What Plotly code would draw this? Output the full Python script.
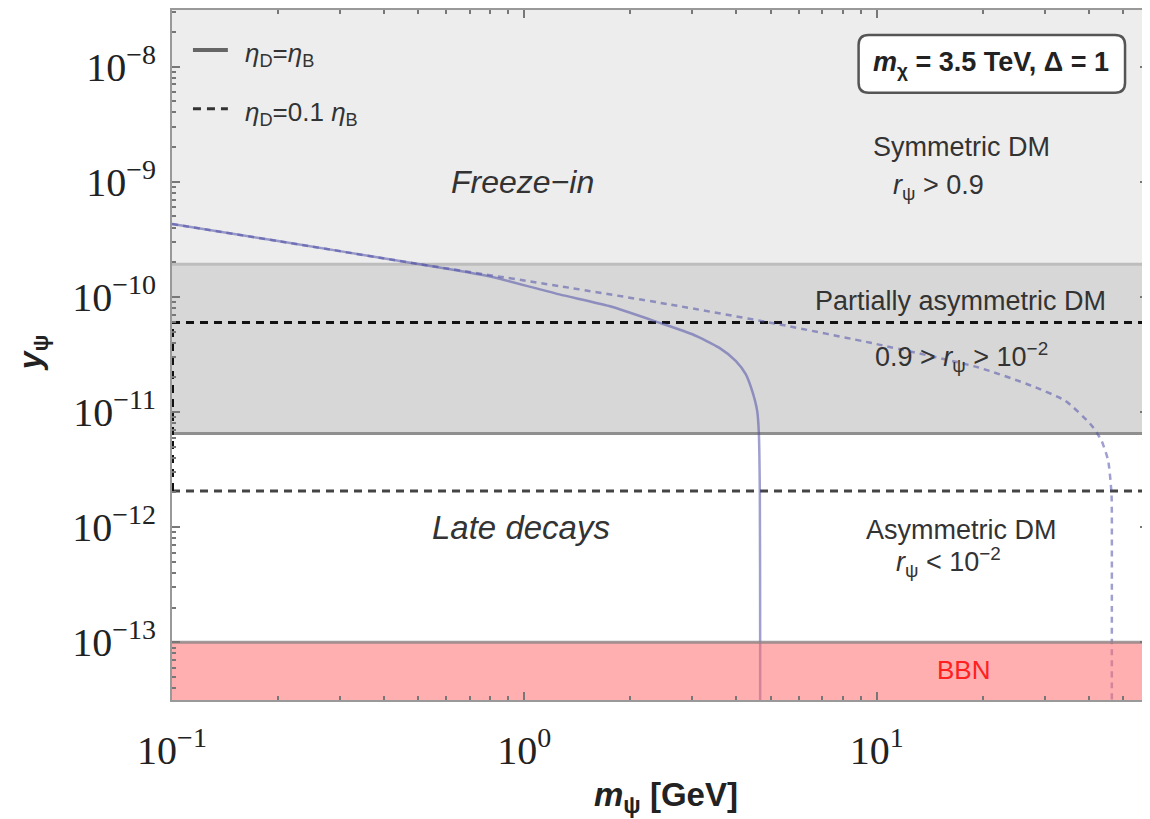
import numpy as np
import plotly.graph_objects as go

# ---------------- data ----------------
X_RANGE = [0.1, 58.9]          # m_psi [GeV]
Y_RANGE = [3.15e-14, 3.1e-8]   # y_psi

SYM_LOW = 1.92e-10     # boundary r_psi = 0.9   (eta_D = eta_B)
ASYM_HIGH = 6.5e-12    # boundary r_psi = 1e-2  (eta_D = eta_B)
DASH_SYM = 6.0e-11     # boundary r_psi = 0.9   (eta_D = 0.1 eta_B)
DASH_ASYM = 2.06e-12   # boundary r_psi = 1e-2  (eta_D = 0.1 eta_B)
BBN_Y = 1e-13

solid_m = [0.1, 0.2, 0.48, 0.8, 1.257, 1.741, 2.413, 3.0, 3.57, 3.98, 4.25, 4.43,
           4.58, 4.63, 4.66, 4.67, 4.67]
solid_y = [4.3e-10, 3.05e-10, 1.97e-10, 1.5e-10, 1.05e-10, 8.32e-11, 5.97e-11,
           4.73e-11, 3.62e-11, 2.78e-11, 2.13e-11, 1.53e-11, 1.02e-11, 6.6e-12,
           2e-12, 1e-13, 3.15e-14]

dash_m = [0.1, 0.2, 0.48, 1.257, 2.58, 5.27, 9.94, 19.5, 27.5, 34.3, 40.8, 43.5,
          45.4, 46.4, 46.5, 46.5, 46.5]
dash_y = [4.3e-10, 3.05e-10, 1.97e-10, 1.24e-10, 8.6e-11, 5.78e-11, 3.9e-11,
          2.43e-11, 1.69e-11, 1.25e-11, 7.6e-12, 5.6e-12, 3.77e-12, 1.95e-12,
          1.31e-12, 1e-13, 3.15e-14]

x_tickvals = [0.1, 1, 10]
x_ticktext = ["10<sup>−1</sup>", "10<sup>0</sup>", "10<sup>1</sup>"]
y_tickvals = [1e-13, 1e-12, 1e-11, 1e-10, 1e-9, 1e-8]
y_ticktext = ["10<sup>−13</sup>", "10<sup>−12</sup>", "10<sup>−11</sup>",
              "10<sup>−10</sup>", "10<sup>−9</sup>", "10<sup>−8</sup>"]
x_minor = [k * 10.0 ** n for n in (-1, 0, 1) for k in range(2, 10)]
y_minor = [k * 10.0 ** n for n in range(-14, -7) for k in range(2, 10)]

# ---------------- figure ----------------
fig = go.Figure()
X0, X1 = X_RANGE
Y0, Y1 = Y_RANGE

def band(ylo, yhi, color):
    fig.add_trace(go.Scatter(x=[X0, X1, X1, X0, X0], y=[ylo, ylo, yhi, yhi, ylo],
                             mode="lines", fill="toself", fillcolor=color,
                             line=dict(width=0), hoverinfo="skip", showlegend=False))

def hline(yv, color, width, dash="solid"):
    fig.add_trace(go.Scatter(x=[X0, X1], y=[yv, yv], mode="lines",
                             line=dict(color=color, width=width, dash=dash),
                             hoverinfo="skip", showlegend=False))

band(SYM_LOW, Y1, "#ededed")
band(ASYM_HIGH, SYM_LOW, "#d7d7d7")
hline(SYM_LOW, "#bdbdbd", 3)
hline(ASYM_HIGH, "#8f8f8f", 3)
hline(DASH_SYM, "#111111", 3, "8px,6px")
hline(DASH_ASYM, "#444444", 3, "8px,6px")
fig.add_trace(go.Scatter(x=[X0, X0], y=[DASH_ASYM, DASH_SYM], mode="lines",
                         line=dict(color="#111111", width=4, dash="8px,6px"),
                         hoverinfo="skip", showlegend=False))

CURVE = "rgba(80,80,170,0.55)"
fig.add_trace(go.Scatter(x=solid_m, y=solid_y, mode="lines",
                         line=dict(color=CURVE, width=2.5, shape="spline", smoothing=0.6),
                         hoverinfo="skip", showlegend=False))
fig.add_trace(go.Scatter(x=dash_m, y=dash_y, mode="lines",
                         line=dict(color=CURVE, width=2.5, dash="6px,5px",
                                   shape="spline", smoothing=0.6),
                         hoverinfo="skip", showlegend=False))

band(Y0, BBN_Y, "rgba(255,110,110,0.55)")
hline(BBN_Y, "rgba(140,130,130,0.8)", 3)

axis_common = dict(type="log", showline=True, linecolor="#999999", linewidth=2,
                   mirror="allticks", ticks="inside", ticklen=8, tickwidth=1.5,
                   tickcolor="#777777", showgrid=False, zeroline=False,
                   tickfont=dict(family="Liberation Serif", size=40, color="#222222"))

fig.update_xaxes(range=[np.log10(X0), np.log10(X1)], tickvals=x_tickvals,
                 ticktext=x_ticktext, ticklabelstandoff=14,
                 minor=dict(tickvals=x_minor, ticks="inside", ticklen=4,
                            tickcolor="#777777", showgrid=False),
                 **axis_common)
fig.update_yaxes(range=[np.log10(Y0), np.log10(Y1)], tickvals=y_tickvals,
                 ticktext=y_ticktext, ticklabelstandoff=6,
                 minor=dict(tickvals=y_minor, ticks="inside", ticklen=4,
                            tickcolor="#777777", showgrid=False),
                 **axis_common)

# page coordinates of the plot area (page has an 8px body margin)
L, T, W, H = 172, 8, 978, 692

def px(xp):
    return (xp - L) / W

def py(yp):
    return (T + H - yp) / H

SANS = "Liberation Sans"
ann = []

def text(x, y, s, size, color="#333333", **kw):
    ann.append(dict(x=px(x), y=py(y), xref="paper", yref="paper", text=s,
                    showarrow=False, font=dict(family=SANS, size=size, color=color),
                    xanchor="center", yanchor="middle", **kw))

text(523, 180, "<i>Freeze−in</i>", 32)
text(522, 527, "<i>Late decays</i>", 33)
text(963, 145, "Symmetric DM", 27)
text(940, 186, "<i>r</i><sub>ψ</sub> &gt; 0.9", 27)
text(962, 300, "Partially asymmetric DM", 27)
text(963, 356, "0.9 &gt; <i>r</i><sub>ψ</sub> &gt; 10<sup>−2</sup>", 27)
text(963, 530, "Asymmetric DM", 27)
text(950, 562, "<i>r</i><sub>ψ</sub> &lt; 10<sup>−2</sup>", 27)
text(965, 670, "BBN", 26, color="#ff2020")
text(993, 62, "<b><i>m</i><sub>χ</sub> = 3.5 TeV, Δ = 1</b>", 27, color="#222222")

# legend texts
ann.append(dict(x=px(243), y=py(53), xref="paper", yref="paper",
                text="<i>η</i><sub>D</sub>=<i>η</i><sub>B</sub>", showarrow=False,
                font=dict(family=SANS, size=26, color="#333333"),
                xanchor="left", yanchor="middle"))
ann.append(dict(x=px(243), y=py(112), xref="paper", yref="paper",
                text="<i>η</i><sub>D</sub>=0.1 <i>η</i><sub>B</sub>", showarrow=False,
                font=dict(family=SANS, size=26, color="#333333"),
                xanchor="left", yanchor="middle"))

# axis titles
ann.append(dict(x=px(667), y=py(797), xref="paper", yref="paper",
                text="<b><i>m</i><sub>ψ</sub> [GeV]</b>", showarrow=False,
                font=dict(family=SANS, size=33, color="#222222"),
                xanchor="center", yanchor="middle"))
ann.append(dict(x=px(32), y=py(352), xref="paper", yref="paper",
                text="<b><i>y</i><sub>ψ</sub></b>", showarrow=False, textangle=-90,
                font=dict(family=SANS, size=32, color="#222222"),
                xanchor="center", yanchor="middle"))

# rounded box around parameters
bx0, bx1, by0, by1, r = 860, 1127, 33, 91, 10
def pp(a, b):
    return f"{px(a):.5f},{py(b):.5f}"
path = (f"M {pp(bx0 + r, by0)} L {pp(bx1 - r, by0)} Q {pp(bx1, by0)} {pp(bx1, by0 + r)} "
        f"L {pp(bx1, by1 - r)} Q {pp(bx1, by1)} {pp(bx1 - r, by1)} "
        f"L {pp(bx0 + r, by1)} Q {pp(bx0, by1)} {pp(bx0, by1 - r)} "
        f"L {pp(bx0, by0 + r)} Q {pp(bx0, by0)} {pp(bx0 + r, by0)} Z")
shapes = [dict(type="path", path=path, xref="paper", yref="paper",
               fillcolor="white", line=dict(color="#555555", width=2.5), layer="above")]

# legend line samples
shapes.append(dict(type="line", xref="paper", yref="paper", x0=px(193), x1=px(228),
                   y0=py(48), y1=py(48), line=dict(color="#666666", width=4)))
shapes.append(dict(type="line", xref="paper", yref="paper", x0=px(193), x1=px(228),
                   y0=py(107), y1=py(107), line=dict(color="#333333", width=3, dash="8px,6px")))

# figure sits at an 8px body offset
fig.update_layout(width=1142, height=811, margin=dict(l=L - 8, r=0, t=T - 8, b=119),
                  plot_bgcolor="white", paper_bgcolor="white",
                  annotations=ann, shapes=shapes, showlegend=False)

fig.write_html("out.html")
